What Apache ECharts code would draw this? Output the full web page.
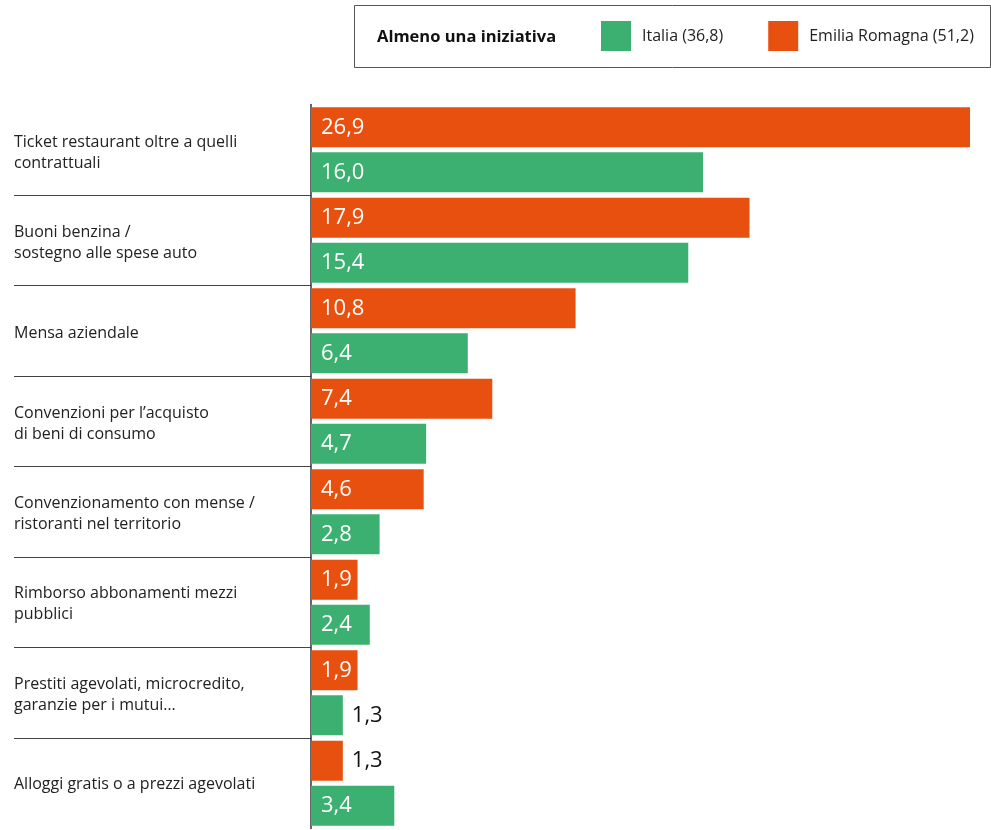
<!DOCTYPE html>
<html>
<head>
<meta charset="utf-8">
<script src="https://cdn.jsdelivr.net/npm/echarts@6/dist/echarts.min.js"></script>
<style>
  html, body { margin: 0; padding: 0; background: #fff; }
  #chart { width: 991px; height: 830px; }
</style>
</head>
<body>
<div id="chart"></div>
<script>
// Welfare initiatives offered by companies (% of companies)
const categories = [
  'Ticket restaurant oltre a quelli\ncontrattuali',
  'Buoni benzina /\nsostegno alle spese auto',
  'Mensa aziendale',
  'Convenzioni per l\u2019acquisto\ndi beni di consumo',
  'Convenzionamento con mense /\nristoranti nel territorio',
  'Rimborso abbonamenti mezzi\npubblici',
  'Prestiti agevolati, microcredito,\ngaranzie per i mutui\u2026',
  'Alloggi gratis o a prezzi agevolati'
];
const emiliaValues = [26.9, 17.9, 10.8, 7.4, 4.6, 1.9, 1.9, 1.3];
const italiaValues = [16.0, 15.4, 6.4, 4.7, 2.8, 2.4, 1.3, 3.4];
const seriesNames = ['Italia (36,8)', 'Emilia Romagna (51,2)'];
const legendTitle = 'Almeno una iniziativa';

const ORANGE = '#E8500F';
const GREEN = '#3CB070';
const FONT = 'Open Sans';
const NUM_FONT = 'Open Sans';

const fmt = v => v.toFixed(1).replace('.', ',');

// Short bars get their label outside, in dark text
function barData(values) {
  return values.map(v => {
    const inside = v >= 1.5;
    return {
      value: v,
      label: inside
        ? { position: 'insideLeft', distance: 10, color: '#fff' }
        : { position: 'right', distance: 9, color: '#111' }
    };
  });
}

const chart = echarts.init(document.getElementById('chart'));

const GRID_TOP = 104.5;
const GRID_H = 724;
const LABEL_DROP = 3; // category names sit slightly below the row centre

chart.setOption({
  animation: false,
  graphic: [
    {
      type: 'rect',
      shape: { x: 354.5, y: 5.5, width: 636, height: 62 },
      style: { fill: '#fff', stroke: '#555', lineWidth: 1 },
      z: -1
    },
    {
      type: 'text',
      x: 377, y: 37,
      style: {
        text: legendTitle,
        font: 'bold 16.5px ' + FONT,
        fill: '#111',
        verticalAlign: 'middle'
      }
    }
  ],
  legend: {
    data: seriesNames,
    left: 596,
    top: 16,
    itemWidth: 30,
    itemHeight: 30,
    itemGap: 45,
    icon: 'rect',
    selectedMode: false,
    textStyle: { fontFamily: FONT, fontSize: 16, color: '#222', padding: [0, 0, 0, 6] }
  },
  grid: [
    { left: 311, width: 659, top: GRID_TOP, height: GRID_H, containLabel: false },
    { left: 14, width: 297, top: GRID_TOP, height: GRID_H, containLabel: false },
    { left: 311, width: 659, top: GRID_TOP + LABEL_DROP, height: GRID_H, containLabel: false }
  ],
  xAxis: [
    { gridIndex: 0, type: 'value', min: 0, max: 26.9, show: false },
    { gridIndex: 1, type: 'value', min: 0, max: 1, show: false },
    { gridIndex: 2, type: 'value', min: 0, max: 1, show: false }
  ],
  yAxis: [
    {
      gridIndex: 0,
      type: 'category',
      data: categories,
      inverse: true,
      axisLine: { show: true, lineStyle: { color: '#333', width: 1.5 } },
      axisTick: { show: false },
      splitLine: { show: false },
      axisLabel: { show: false }
    },
    {
      // separators between category rows, left of the axis
      gridIndex: 1,
      type: 'category',
      data: categories,
      inverse: true,
      axisLine: { show: false },
      axisTick: { show: false },
      axisLabel: { show: false },
      splitLine: {
        show: true,
        showMinLine: false,
        showMaxLine: false,
        lineStyle: { color: '#444', width: 1 }
      }
    },
    {
      // category names
      gridIndex: 2,
      type: 'category',
      data: categories,
      inverse: true,
      axisLine: { show: false },
      axisTick: { show: false },
      splitLine: { show: false },
      axisLabel: {
        align: 'left',
        margin: 297,
        fontFamily: FONT,
        fontSize: 16,
        lineHeight: 21,
        color: '#222'
      }
    }
  ],
  series: [
    {
      name: seriesNames[1],
      type: 'bar',
      xAxisIndex: 0, yAxisIndex: 0,
      data: barData(emiliaValues),
      barWidth: 40,
      barGap: '12.5%',
      itemStyle: { color: ORANGE },
      label: {
        show: true,
        fontFamily: NUM_FONT,
        fontSize: 22,
        formatter: p => fmt(p.value)
      }
    },
    {
      name: seriesNames[0],
      type: 'bar',
      xAxisIndex: 0, yAxisIndex: 0,
      data: barData(italiaValues),
      barWidth: 40,
      barGap: '12.5%',
      itemStyle: { color: GREEN },
      label: {
        show: true,
        fontFamily: NUM_FONT,
        fontSize: 22,
        formatter: p => fmt(p.value)
      }
    }
  ]
});
</script>
</body>
</html>
